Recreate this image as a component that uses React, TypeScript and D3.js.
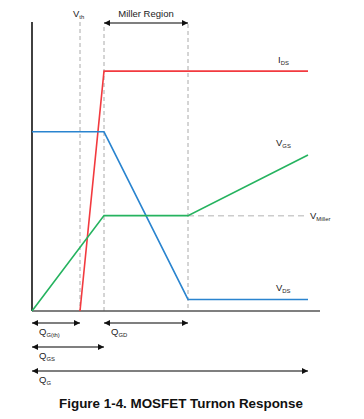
import React, { useEffect, useRef } from "react";
import * as d3 from "d3";

// gate charge (x) milestones, arbitrary units
const chargeMarks = { qth: 2, qgs: 3, qgd: 6.5, qg: 11.5 };
const chargeDomain = [0, 12];
const voltDomain = [0, 10];

// waveforms as [charge, level]
const idsPoints: [number, number][] = [[2, 0], [3, 8.3], [11.5, 8.3]];
const vdsPoints: [number, number][] = [[0, 6.2], [3, 6.2], [6.5, 0.4], [11.5, 0.4]];
const vgsPoints: [number, number][] = [[0, 0], [3, 3.3], [6.5, 3.3], [11.5, 5.4]];
const millerLevel = 3.3;

const seriesNames = ["DS", "DS", "GS"];
const chargeArrows = [
  { from: 0, to: 2, row: 0, label: "Q", sub: "G(th)" },
  { from: 3, to: 6.5, row: 0, label: "Q", sub: "GD" },
  { from: 0, to: 3, row: 1, label: "Q", sub: "GS" },
  { from: 0, to: 11.5, row: 2, label: "Q", sub: "G" },
];

const FONT = "'Liberation Sans', Arial, sans-serif";

export default function App() {
  const ref = useRef<SVGSVGElement>(null);

  useEffect(() => {
    const svg = d3.select(ref.current);
    svg.selectAll("*").remove();

    const x = d3.scaleLinear().domain(chargeDomain).range([32, 320]);
    const y = d3.scaleLinear().domain(voltDomain).range([311, 22]);

    const defs = svg.append("defs");
    defs
      .append("marker")
      .attr("id", "ah")
      .attr("viewBox", "0 0 10 10")
      .attr("refX", 10)
      .attr("refY", 5)
      .attr("markerWidth", 7)
      .attr("markerHeight", 6)
      .attr("markerUnits", "userSpaceOnUse")
      .attr("orient", "auto-start-reverse")
      .append("path")
      .attr("d", "M0,0L10,5L0,10Z")
      .attr("fill", "#111");

    // dashed guides
    const dash = "4,3";
    const guides = [
      { q: chargeMarks.qth, top: 22 },
      { q: chargeMarks.qgs, top: 27 },
      { q: chargeMarks.qgd, top: 24 },
    ];
    svg
      .selectAll(".guide")
      .data(guides)
      .join("line")
      .attr("x1", (d) => x(d.q))
      .attr("x2", (d) => x(d.q))
      .attr("y1", (d) => d.top)
      .attr("y2", y(0))
      .attr("stroke", "#aaa")
      .attr("stroke-width", 1)
      .attr("stroke-dasharray", dash);

    // Miller level
    svg
      .append("line")
      .attr("x1", x(chargeMarks.qgd))
      .attr("x2", x(chargeMarks.qg))
      .attr("y1", y(millerLevel))
      .attr("y2", y(millerLevel))
      .attr("stroke", "#ccc")
      .attr("stroke-width", 1.5)
      .attr("stroke-dasharray", "6,4");

    // axes
    svg
      .append("line")
      .attr("x1", x(0))
      .attr("x2", x(0))
      .attr("y1", 22)
      .attr("y2", y(0))
      .attr("stroke", "#111")
      .attr("stroke-width", 1.6);
    svg
      .append("line")
      .attr("x1", x(0))
      .attr("x2", x(12))
      .attr("y1", y(0))
      .attr("y2", y(0))
      .attr("stroke", "#555")
      .attr("stroke-width", 1.6);

    const line = d3
      .line<[number, number]>()
      .x((d) => x(d[0]))
      .y((d) => y(d[1]));

    const series = [
      { pts: idsPoints, color: "#f23a3f" },
      { pts: vdsPoints, color: "#2a84cf" },
      { pts: vgsPoints, color: "#25b35f" },
    ];
    svg
      .selectAll(".wave")
      .data(series)
      .join("path")
      .attr("d", (d) => line(d.pts))
      .attr("fill", "none")
      .attr("stroke", (d) => d.color)
      .attr("stroke-width", 1.6);

    // label helper with subscript
    const label = (
      px: number,
      py: number,
      main: string,
      sub: string,
      size = 9.5,
      anchor = "start"
    ) => {
      const t = svg
        .append("text")
        .attr("x", px)
        .attr("y", py)
        .attr("font-family", FONT)
        .attr("font-size", size)
        .attr("fill", "#222")
        .attr("text-anchor", anchor);
      t.append("tspan").text(main);
      t.append("tspan").attr("font-size", size * 0.62).attr("dy", 2).text(sub);
    };

    label(x(chargeMarks.qg) - 30, y(8.3) - 8, "I", seriesNames[0]);
    label(x(chargeMarks.qg) - 32, y(5.4) - 9, "V", seriesNames[2]);
    label(x(chargeMarks.qg) - 32, y(0.4) - 8, "V", seriesNames[1]);
    label(x(chargeMarks.qg) + 2, y(millerLevel) + 3, "V", "Miller");
    label(x(chargeMarks.qth) - 7, 17, "V", "th");

    // Miller region arrow
    svg
      .append("line")
      .attr("x1", x(chargeMarks.qgd))
      .attr("x2", x(chargeMarks.qgs))
      .attr("y1", 23)
      .attr("y2", 23)
      .attr("stroke", "#555")
      .attr("stroke-width", 1.4)
      .attr("marker-start", "url(#ah)")
      .attr("marker-end", "url(#ah)");
    svg
      .append("text")
      .attr("x", (x(chargeMarks.qgs) + x(chargeMarks.qgd)) / 2)
      .attr("y", 17)
      .attr("text-anchor", "middle")
      .attr("font-family", FONT)
      .attr("font-size", 9.5)
      .attr("fill", "#222")
      .text("Miller Region");

    // charge arrows
    const rowY = [323, 347, 371];
    chargeArrows.forEach((a) => {
      svg
        .append("line")
        .attr("x1", x(a.from))
        .attr("x2", x(a.to))
        .attr("y1", rowY[a.row])
        .attr("y2", rowY[a.row])
        .attr("stroke", "#555")
        .attr("stroke-width", 1.4)
        .attr("marker-start", "url(#ah)")
        .attr("marker-end", "url(#ah)");
      label(x(a.from) + 7, rowY[a.row] + 12, a.label, a.sub);
    });

    svg
      .append("text")
      .attr("x", 181)
      .attr("y", 408)
      .attr("text-anchor", "middle")
      .attr("font-family", FONT)
      .attr("font-size", 13.4)
      .attr("font-weight", "bold")
      .attr("fill", "#111")
      .text("Figure 1-4. MOSFET Turnon Response");
  }, []);

  return (
    <svg
      ref={ref}
      width={364}
      height={419}
      style={{ position: "absolute", left: 0, top: 0, background: "#fff" }}
    />
  );
}
